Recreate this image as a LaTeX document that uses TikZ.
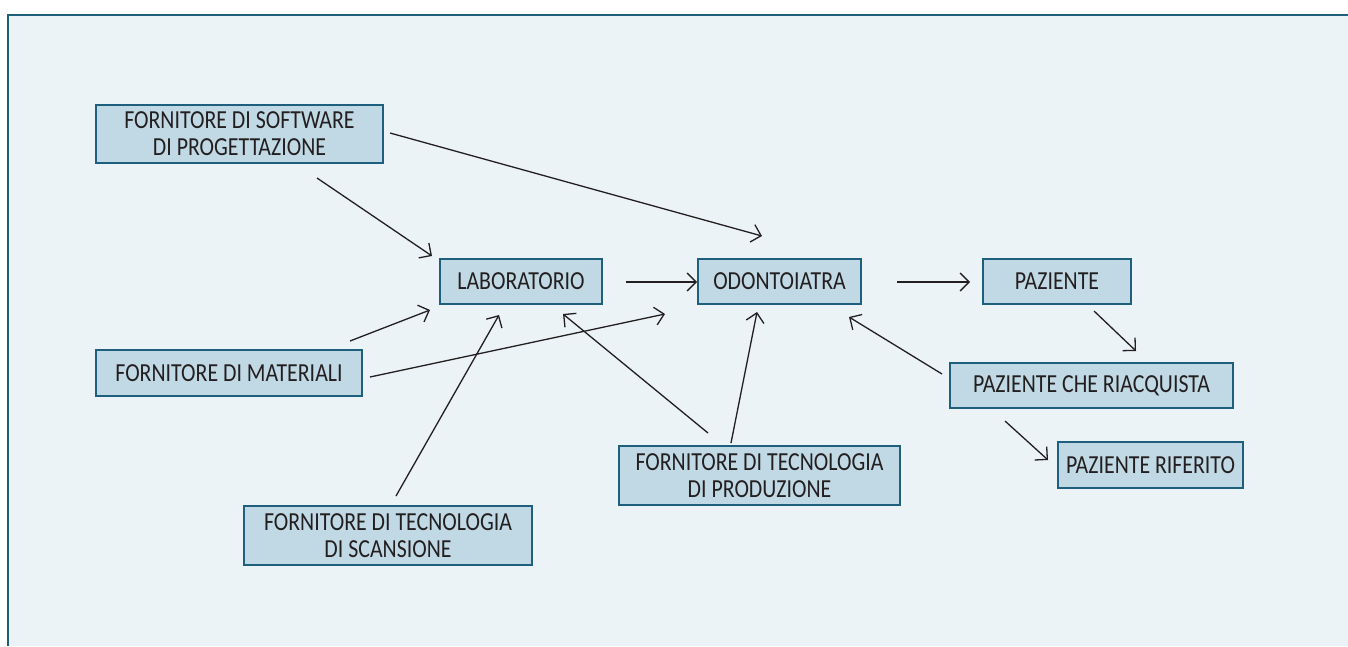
\documentclass[tikz,border=0pt]{standalone}
\usepackage{fontspec}
\setmainfont{Carlito}[FakeStretch=0.84]
\usetikzlibrary{arrows.meta}
\definecolor{panel}{HTML}{EBF3F7}
\definecolor{boxfill}{HTML}{C1D9E5}
\definecolor{boxline}{HTML}{1E5F7E}
\definecolor{ink}{HTML}{231F20}
\tikzset{
  box/.style={draw=boxline, line width=1.6pt, fill=boxfill, inner sep=0pt,
    align=center, text=ink, font=\fontsize{26}{27}\selectfont},
  conn/.style={draw=ink, line width=1.3pt, -{Straight Barb[length=9pt,width=18pt,line width=1.3pt]}}
}
\begin{document}
\begin{tikzpicture}[x=1pt,y=-1pt]
\useasboundingbox (0,0) rectangle (1348,646);
\fill[panel] (8,15) rectangle (1348,646);
\draw[boxline, line width=2pt] (8,646) -- (8,15) -- (1348,15);

\node[box, minimum width=287pt, minimum height=58pt] (sw) at (239.5,134) {FORNITORE DI SOFTWARE\\DI PROGETTAZIONE};
\node[box, minimum width=162pt, minimum height=45pt] (lab) at (521,281.5) {LABORATORIO};
\node[box, minimum width=163pt, minimum height=45pt] (odo) at (779.5,281.5) {ODONTOIATRA};
\node[box, minimum width=148pt, minimum height=45pt] (paz) at (1057,281.5) {PAZIENTE};
\node[box, minimum width=266pt, minimum height=46pt] (mat) at (229,373) {FORNITORE DI MATERIALI};
\node[box, minimum width=283pt, minimum height=45pt] (pcr) at (1091.5,385.5) {PAZIENTE CHE RIACQUISTA};
\node[box, minimum width=185pt, minimum height=46pt] (pr) at (1150.5,465) {PAZIENTE RIFERITO};
\node[box, minimum width=281pt, minimum height=59pt] (prod) at (759.5,475.5) {FORNITORE DI TECNOLOGIA\\DI PRODUZIONE};
\node[box, minimum width=288pt, minimum height=59pt] (scan) at (388,535.5) {FORNITORE DI TECNOLOGIA\\DI SCANSIONE};

% connector end points (free ends)
\coordinate (swA) at (317,178);  \coordinate (labA) at (432,256);
\coordinate (swB) at (390,133);  \coordinate (odoA) at (762,236);
\coordinate (matA) at (350,341); \coordinate (labB) at (430,310);
\coordinate (matB) at (370,377); \coordinate (odoB) at (665,314);
\coordinate (scanA) at (396,496); \coordinate (labC) at (499,315);
\coordinate (prodA) at (708,433); \coordinate (labD) at (563,314);
\coordinate (prodB) at (731,443); \coordinate (odoC) at (757,312);
\coordinate (labE) at (626,282); \coordinate (odoD) at (697,282);
\coordinate (odoE) at (897,282); \coordinate (pazA) at (970,282);
\coordinate (pazB) at (1094,311); \coordinate (pcrA) at (1136,351);
\coordinate (pcrB) at (942,374); \coordinate (odoF) at (849,317);
\coordinate (pcrC) at (1005,421); \coordinate (prA) at (1048,460);

\draw[conn] (swA) -- (labA);
\draw[conn] (swB) -- (odoA);
\draw[conn] (matA) -- (labB);
\draw[conn] (matB) -- (odoB);
\draw[conn] (scanA) -- (labC);
\draw[conn] (prodA) -- (labD);
\draw[conn] (prodB) -- (odoC);
\draw[conn] (labE) -- (odoD);
\draw[conn] (odoE) -- (pazA);
\draw[conn] (pazB) -- (pcrA);
\draw[conn] (pcrB) -- (odoF);
\draw[conn] (pcrC) -- (prA);
\end{tikzpicture}
\end{document}
